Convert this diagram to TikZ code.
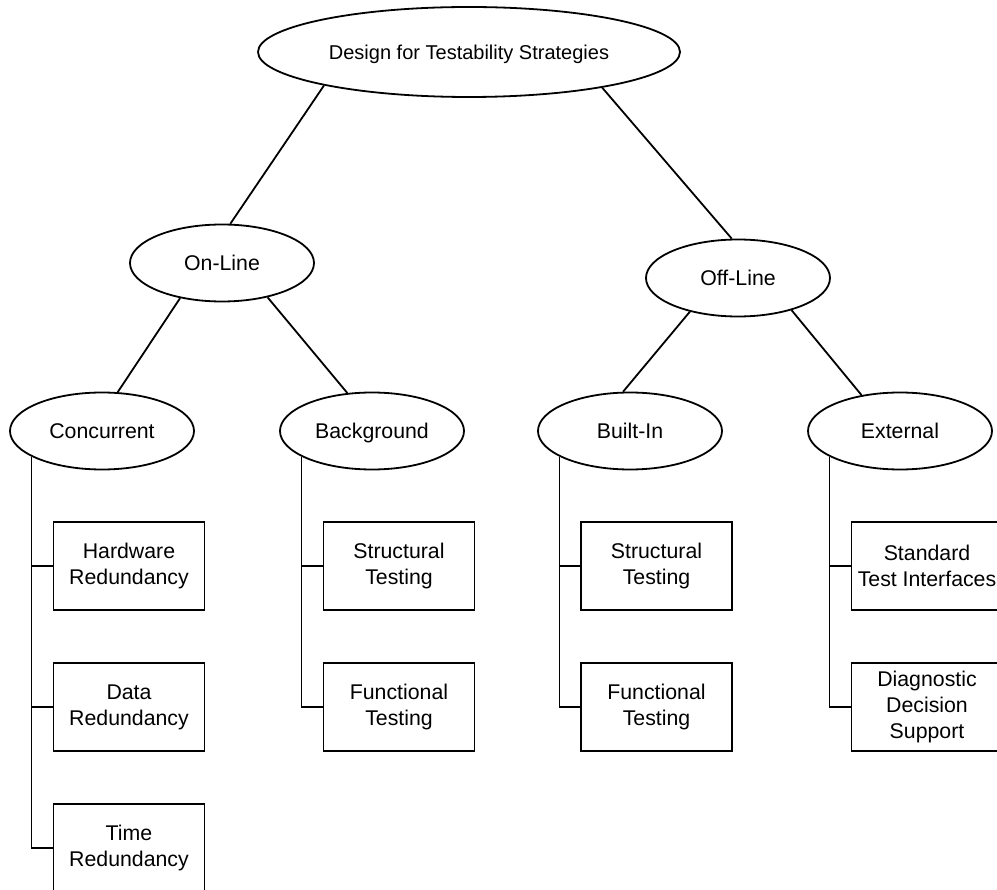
\documentclass[tikz,border=0pt]{standalone}
\usepackage{fontspec}
\setmainfont{Liberation Sans}
\usetikzlibrary{shapes.geometric}
\begin{document}
\begin{tikzpicture}[x=1pt,y=-1pt,
  oval/.style={ellipse, draw=black, line width=1.8pt, inner sep=0pt,
    minimum width=184pt, minimum height=77pt,
    text height=15.3pt, text depth=0pt,
    font=\fontsize{21.3}{26}\selectfont},
  topoval/.style={ellipse, draw=black, line width=1.8pt, inner sep=0pt,
    minimum width=422pt, minimum height=90pt,
    text height=14.4pt, text depth=0pt,
    font=\fontsize{20}{24}\selectfont},
  leaf/.style={rectangle, draw=black, line width=1.8pt, inner sep=0pt,
    minimum width=151pt, minimum height=88pt, align=center,
    font=\fontsize{21.3}{26}\selectfont},
  link/.style={draw=black, line width=1.8pt}]
\useasboundingbox (0,0) rectangle (997,890);
\fill[white] (0,0) rectangle (997,890);
\clip (0,0) rectangle (997,890);

% ellipses
\node[topoval] (top) at (469,52) {Design for Testability Strategies};
\node[oval] (online) at (222,263) {On-Line};
\node[oval] (offline) at (738,278) {Off-Line};
\node[oval] (conc) at (102,431) {Concurrent};
\node[oval] (bg) at (372,431) {Background};
\node[oval] (bi) at (630,431) {Built-In};
\node[oval] (ext) at (900,431) {External};

% boxes
\node[leaf] (hw) at (129,566) {Hardware\\Redundancy};
\node[leaf] (dr) at (129,707) {Data\\Redundancy};
\node[leaf] (tr) at (129,848) {Time\\Redundancy};
\node[leaf] (bgs) at (399,566) {Structural\\Testing};
\node[leaf] (bgf) at (399,707) {Functional\\Testing};
\node[leaf] (bis) at (656.5,566) {Structural\\Testing};
\node[leaf] (bif) at (656.5,707) {Functional\\Testing};
\node[leaf] (exs) at (927,566) {Standard\\Test Interfaces};
\node[leaf] (exd) at (927,707) {Diagnostic\\Decision\\Support};

% tree links
\draw[link] (top.193.5) -- (online.78);
\draw[link] (top.345) -- (offline.99);
\draw[link] (online.220) -- (conc.68);
\draw[link] (online.323.5) -- (bg.123);
\draw[link] (offline.215) -- (bi.100);
\draw[link] (offline.329) -- (ext.137);

% vertical brackets
\draw[link] (conc.200) |- (hw.west);
\draw[link] (conc.200) |- (dr.west);
\draw[link] (conc.200) |- (tr.west);
\draw[link] (bg.200) |- (bgs.west);
\draw[link] (bg.200) |- (bgf.west);
\draw[link] (bi.200) |- (bis.west);
\draw[link] (bi.200) |- (bif.west);
\draw[link] (ext.200) |- (exs.west);
\draw[link] (ext.200) |- (exd.west);
\end{tikzpicture}
\end{document}
